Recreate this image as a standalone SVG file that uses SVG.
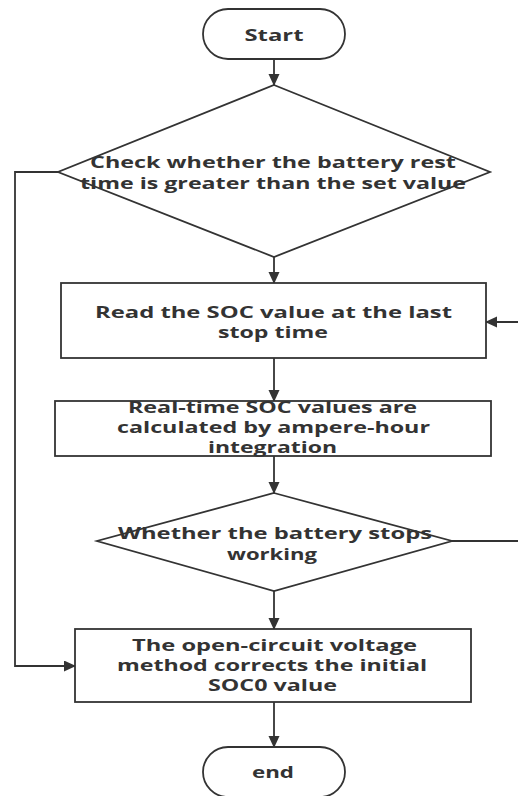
<svg xmlns="http://www.w3.org/2000/svg" width="518" height="796" viewBox="0 0 518 796">
<defs>
<marker id="ah" markerWidth="12" markerHeight="12" refX="11" refY="5.5" orient="auto" markerUnits="userSpaceOnUse">
<path d="M0,0 L12,5.5 L0,11 Z" fill="#333"/>
</marker>
<style>
.n{fill:#fff;stroke:#333;stroke-width:1.8}
.t{font-family:"Open Sans","Liberation Sans",sans-serif;font-weight:bold;font-size:16px;fill:#333;text-anchor:middle}
.c{fill:none;stroke:#333;stroke-width:1.8;marker-end:url(#ah)}
</style>
</defs>
<rect width="518" height="796" fill="#fff"/>
<g id="connectors">
<path class="c" d="M274,59 V85"/>
<path class="c" d="M274,257 V283"/>
<path class="c" d="M274,358 V401"/>
<path class="c" d="M274,456 V493"/>
<path class="c" d="M274,591 V629"/>
<path class="c" d="M274,702 V747"/>
<path class="c" d="M58,172 H15 V666 H75"/>
<path class="c" d="M452,541 H530 V322 H486"/>
</g>
<g id="start">
<rect class="n" x="203" y="9" width="142" height="50" rx="25"/>
<text class="t" x="274" y="41" textLength="59" lengthAdjust="spacingAndGlyphs">Start</text>
</g>
<g id="check">
<polygon class="n" points="274,85 490,172 274,257 58,172"/>
<text class="t" x="273" y="168" textLength="366" lengthAdjust="spacingAndGlyphs">Check whether the battery rest</text>
<text class="t" x="273" y="189" textLength="386" lengthAdjust="spacingAndGlyphs">time is greater than the set value</text>
</g>
<g id="read">
<rect class="n" x="61" y="283" width="425" height="75"/>
<text class="t" x="273.5" y="318" textLength="357" lengthAdjust="spacingAndGlyphs">Read the SOC value at the last</text>
<text class="t" x="273" y="338" textLength="110" lengthAdjust="spacingAndGlyphs">stop time</text>
</g>
<g id="calc">
<rect class="n" x="55" y="401" width="436" height="55"/>
<text class="t" x="272.5" y="413" textLength="289" lengthAdjust="spacingAndGlyphs">Real-time SOC values are</text>
<text class="t" x="273.5" y="433" textLength="313" lengthAdjust="spacingAndGlyphs">calculated by ampere-hour</text>
<text class="t" x="272.5" y="453" textLength="129" lengthAdjust="spacingAndGlyphs">integration</text>
</g>
<g id="stops">
<polygon class="n" points="274,493 452,541 274,591 97,541"/>
<text class="t" x="275" y="539" textLength="314" lengthAdjust="spacingAndGlyphs">Whether the battery stops</text>
<text class="t" x="272" y="560" textLength="90" lengthAdjust="spacingAndGlyphs">working</text>
</g>
<g id="ocv">
<rect class="n" x="75" y="629" width="396" height="73"/>
<text class="t" x="274.5" y="651" textLength="285" lengthAdjust="spacingAndGlyphs">The open-circuit voltage</text>
<text class="t" x="272" y="671" textLength="310" lengthAdjust="spacingAndGlyphs">method corrects the initial</text>
<text class="t" x="272.5" y="691" textLength="129" lengthAdjust="spacingAndGlyphs">SOC0 value</text>
</g>
<g id="end">
<rect class="n" x="203" y="747" width="142" height="50" rx="25"/>
<text class="t" x="273" y="778" textLength="42" lengthAdjust="spacingAndGlyphs">end</text>
</g>
</svg>
